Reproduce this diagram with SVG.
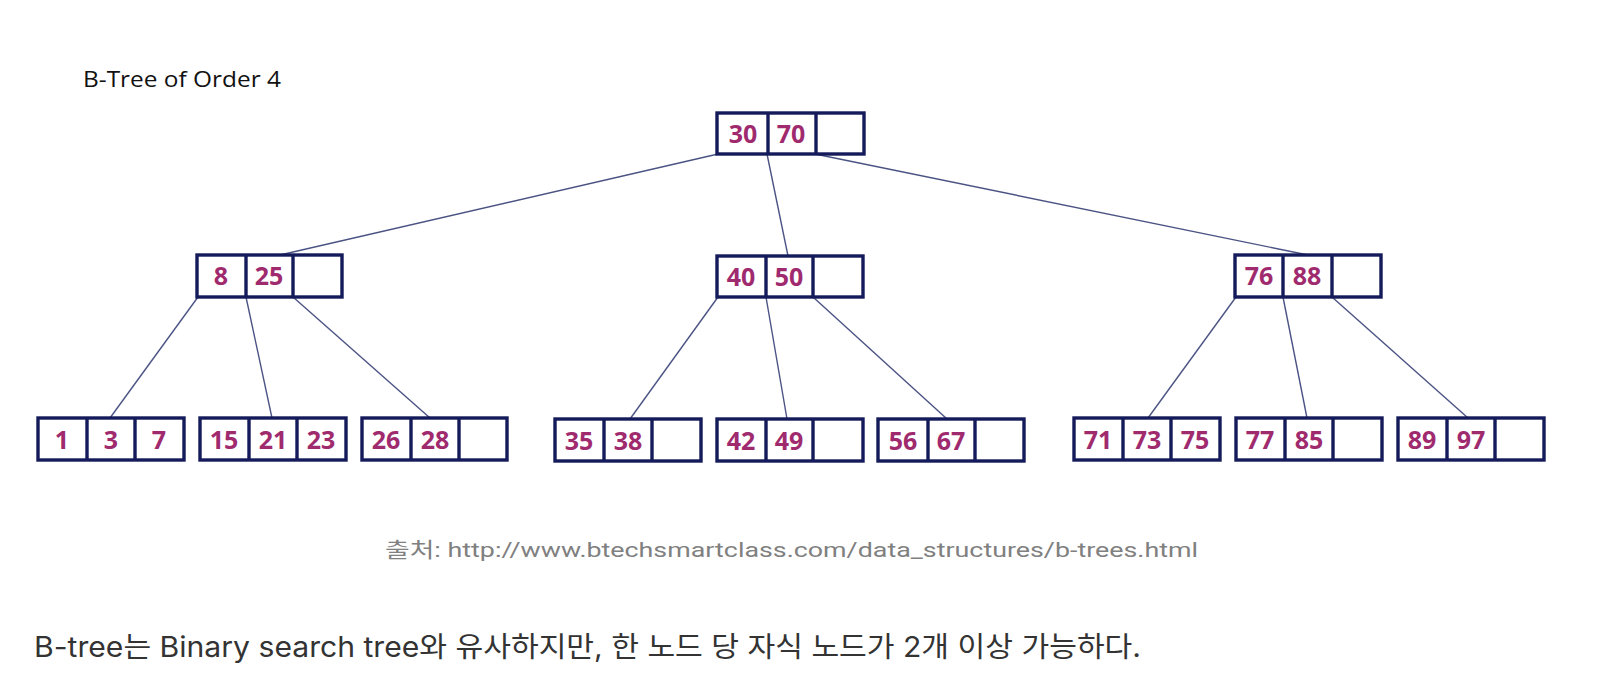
<svg xmlns="http://www.w3.org/2000/svg" width="1608" height="688" viewBox="0 0 1608 688">
<style>
.box{fill:#fff;stroke:#141a5a;stroke-width:3.4}
.div{stroke:#141a5a;stroke-width:3.4}
.num{font-family:"Open Sans","Liberation Sans",sans-serif;font-weight:700;font-size:25px;fill:#a02a6e;text-anchor:middle}
.edge{stroke:#4b5384;stroke-width:1.4;fill:none}
</style>
<rect width="1608" height="688" fill="#fff"/>
<text x="83" y="87" font-family="'Open Sans','Liberation Sans',sans-serif" font-size="21" fill="#111" textLength="198" lengthAdjust="spacingAndGlyphs">B-Tree of Order 4</text>
<g id="connectors">
<line class="edge" x1="718" y1="154" x2="280" y2="255"/>
<line class="edge" x1="767" y1="154" x2="788" y2="256"/>
<line class="edge" x1="815" y1="154" x2="1308" y2="255"/>
<line class="edge" x1="198" y1="297" x2="110" y2="418"/>
<line class="edge" x1="246" y1="297" x2="272" y2="418"/>
<line class="edge" x1="293" y1="297" x2="430" y2="418"/>
<line class="edge" x1="718" y1="297" x2="630" y2="419"/>
<line class="edge" x1="766" y1="297" x2="787" y2="419"/>
<line class="edge" x1="813" y1="297" x2="947" y2="419"/>
<line class="edge" x1="1236" y1="297" x2="1148" y2="418"/>
<line class="edge" x1="1283" y1="297" x2="1307" y2="418"/>
<line class="edge" x1="1332" y1="297" x2="1468" y2="418"/>
</g>
<g id="root">
<rect class="box" x="717" y="113" width="147" height="41"/>
<line class="div" x1="768" y1="113" x2="768" y2="154"/>
<line class="div" x1="816" y1="113" x2="816" y2="154"/>
<text class="num" x="743" y="143">30</text>
<text class="num" x="791" y="143">70</text>
</g>
<g id="n8_25">
<rect class="box" x="197" y="255" width="145" height="42"/>
<line class="div" x1="246" y1="255" x2="246" y2="297"/>
<line class="div" x1="293" y1="255" x2="293" y2="297"/>
<text class="num" x="221" y="285">8</text>
<text class="num" x="269" y="285">25</text>
</g>
<g id="n40_50">
<rect class="box" x="717" y="256" width="146" height="41"/>
<line class="div" x1="766" y1="256" x2="766" y2="297"/>
<line class="div" x1="813" y1="256" x2="813" y2="297"/>
<text class="num" x="741" y="286">40</text>
<text class="num" x="789" y="286">50</text>
</g>
<g id="n76_88">
<rect class="box" x="1235" y="255" width="146" height="42"/>
<line class="div" x1="1283" y1="255" x2="1283" y2="297"/>
<line class="div" x1="1332" y1="255" x2="1332" y2="297"/>
<text class="num" x="1259" y="285">76</text>
<text class="num" x="1307" y="285">88</text>
</g>
<g id="l1_3_7">
<rect class="box" x="38" y="418" width="146" height="42"/>
<line class="div" x1="87" y1="418" x2="87" y2="460"/>
<line class="div" x1="135" y1="418" x2="135" y2="460"/>
<text class="num" x="62" y="449">1</text>
<text class="num" x="111" y="449">3</text>
<text class="num" x="159" y="449">7</text>
</g>
<g id="l15_21_23">
<rect class="box" x="200" y="418" width="146" height="42"/>
<line class="div" x1="249" y1="418" x2="249" y2="460"/>
<line class="div" x1="297" y1="418" x2="297" y2="460"/>
<text class="num" x="224" y="449">15</text>
<text class="num" x="273" y="449">21</text>
<text class="num" x="321" y="449">23</text>
</g>
<g id="l26_28">
<rect class="box" x="362" y="418" width="145" height="42"/>
<line class="div" x1="411" y1="418" x2="411" y2="460"/>
<line class="div" x1="459" y1="418" x2="459" y2="460"/>
<text class="num" x="386" y="449">26</text>
<text class="num" x="435" y="449">28</text>
</g>
<g id="l35_38">
<rect class="box" x="555" y="419" width="146" height="42"/>
<line class="div" x1="604" y1="419" x2="604" y2="461"/>
<line class="div" x1="652" y1="419" x2="652" y2="461"/>
<text class="num" x="579" y="450">35</text>
<text class="num" x="628" y="450">38</text>
</g>
<g id="l42_49">
<rect class="box" x="717" y="419" width="146" height="42"/>
<line class="div" x1="766" y1="419" x2="766" y2="461"/>
<line class="div" x1="813" y1="419" x2="813" y2="461"/>
<text class="num" x="741" y="450">42</text>
<text class="num" x="789" y="450">49</text>
</g>
<g id="l56_67">
<rect class="box" x="878" y="419" width="146" height="42"/>
<line class="div" x1="928" y1="419" x2="928" y2="461"/>
<line class="div" x1="975" y1="419" x2="975" y2="461"/>
<text class="num" x="903" y="450">56</text>
<text class="num" x="951" y="450">67</text>
</g>
<g id="l71_73_75">
<rect class="box" x="1074" y="418" width="146" height="42"/>
<line class="div" x1="1123" y1="418" x2="1123" y2="460"/>
<line class="div" x1="1171" y1="418" x2="1171" y2="460"/>
<text class="num" x="1098" y="449">71</text>
<text class="num" x="1147" y="449">73</text>
<text class="num" x="1195" y="449">75</text>
</g>
<g id="l77_85">
<rect class="box" x="1236" y="418" width="146" height="42"/>
<line class="div" x1="1285" y1="418" x2="1285" y2="460"/>
<line class="div" x1="1333" y1="418" x2="1333" y2="460"/>
<text class="num" x="1260" y="449">77</text>
<text class="num" x="1309" y="449">85</text>
</g>
<g id="l89_97">
<rect class="box" x="1398" y="418" width="146" height="42"/>
<line class="div" x1="1447" y1="418" x2="1447" y2="460"/>
<line class="div" x1="1495" y1="418" x2="1495" y2="460"/>
<text class="num" x="1422" y="449">89</text>
<text class="num" x="1471" y="449">97</text>
</g>
<text x="385" y="557" font-family="Roboto,'Noto Sans CJK KR',sans-serif" font-size="21" fill="#808080" textLength="813" lengthAdjust="spacingAndGlyphs">출처: http://www.btechsmartclass.com/data_structures/b-trees.html</text>
<text x="34" y="657" font-family="Inter,'Noto Sans CJK KR',sans-serif" font-size="28" fill="#333" textLength="1107" lengthAdjust="spacingAndGlyphs">B-tree는 Binary search tree와 유사하지만, 한 노드 당 자식 노드가 2개 이상 가능하다.</text>
</svg>
